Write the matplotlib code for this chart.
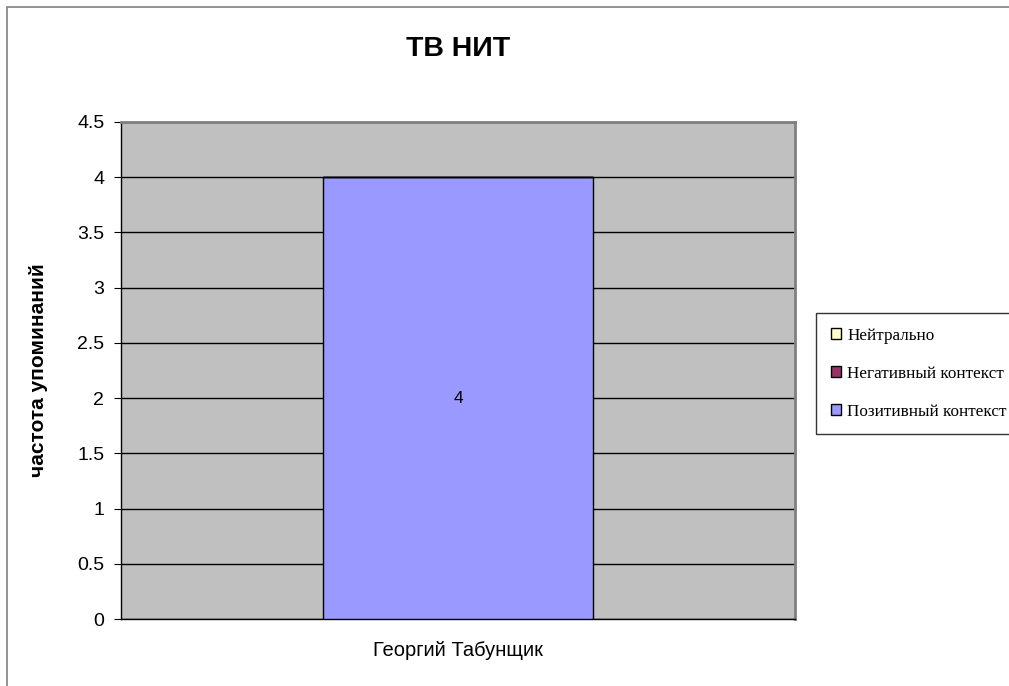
import matplotlib.pyplot as plt
from matplotlib.patches import Rectangle

plt.rcParams["font.family"] = ["Liberation Sans", "DejaVu Sans"]

categories = ["Георгий Табунщик"]
positive = [4]
negative = [0]
neutral = [0]
series_names = ["Позитивный контекст", "Негативный контекст", "Нейтрально"]
series_colors = ["#9999FF", "#993366", "#FFFFCC"]
yticks = [0, 0.5, 1, 1.5, 2, 2.5, 3, 3.5, 4, 4.5]

fig = plt.figure(figsize=(10.09, 6.86), dpi=100)
fig.patches.append(Rectangle((7 / 1009, -0.1), 1.2, (1 - 7 / 686) + 0.1,
                             transform=fig.transFigure, fill=False,
                             edgecolor="#808080", linewidth=1.2))

ax = fig.add_axes([121 / 1009, 1 - 619 / 686, (795 - 121) / 1009, (619 - 122) / 686])
ax.set_facecolor("#C0C0C0")

x = list(range(len(categories)))
bottom = [0] * len(categories)
handles = []
for vals, name, col in zip([positive, negative, neutral], series_names, series_colors):
    bars = ax.bar(x, vals, width=0.4, bottom=bottom, color=col,
                  edgecolor="black", linewidth=1, label=name, zorder=3)
    handles.append(bars)
    for xi, v, b in zip(x, vals, bottom):
        if v > 0:
            ax.text(xi, b + v / 2, f"{v:g}", ha="center", va="center",
                    fontsize=12.5, zorder=4)
    bottom = [b + v for b, v in zip(bottom, vals)]

ax.set_xlim(-0.5, 0.5)
ax.set_ylim(0, 4.5)
ax.set_yticks(yticks)
ax.set_yticklabels([f"{t:g}" for t in yticks], fontsize=14)
ax.set_xticks(x)
ax.set_xticklabels(categories, fontsize=14.5)
ax.tick_params(axis="x", length=0, pad=16)
ax.tick_params(axis="y", length=5, direction="out", pad=7)
ax.yaxis.grid(True, color="black", linewidth=1, zorder=1)
ax.set_axisbelow(True)
for side in ["top", "right"]:
    ax.spines[side].set_color("#808080")
    ax.spines[side].set_linewidth(2)
for side in ["left", "bottom"]:
    ax.spines[side].set_color("black")
    ax.spines[side].set_linewidth(1)

ax.set_ylabel("частота упоминаний", fontsize=15, fontweight="bold", labelpad=21)
fig.text(458 / 1009, 1 - 49 / 686, "ТВ НИТ", ha="center", va="center",
         fontsize=20.5, fontweight="bold")

leg = fig.legend(handles[::-1], series_names[::-1], loc="upper left",
                 bbox_to_anchor=(816 / 1009, 1 - 313 / 686),
                 prop={"family": "Liberation Serif", "size": 12.3},
                 frameon=True, fancybox=False, edgecolor="black",
                 handlelength=0.62, handleheight=0.62, handletextpad=0.35,
                 borderpad=0.85, labelspacing=1.3, borderaxespad=0)
leg.get_frame().set_linewidth(1)

fig.savefig("out.png", dpi=100)
